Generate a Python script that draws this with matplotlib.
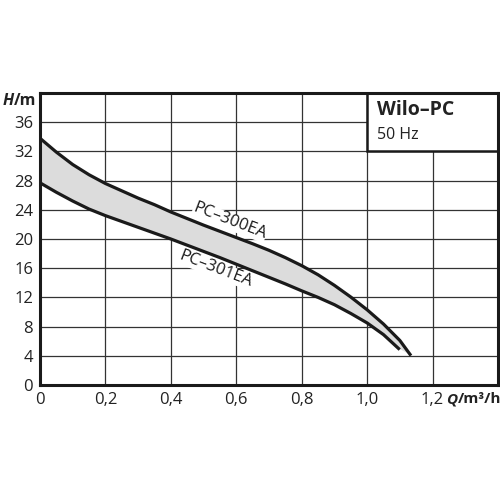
import numpy as np
import matplotlib.pyplot as plt
from matplotlib.patches import Rectangle, Polygon

plt.rcParams['font.family'] = ['Open Sans', 'DejaVu Sans']

# curve data (Q in m³/h, H in m)
q_300 = [0.0, 0.05, 0.1, 0.15, 0.2, 0.25, 0.3, 0.35, 0.4, 0.45, 0.5, 0.55,
         0.6, 0.65, 0.7, 0.75, 0.8, 0.85, 0.9, 0.95, 1.0, 1.05, 1.1, 1.131]
h_300 = [33.8, 31.9, 30.2, 28.8, 27.6, 26.6, 25.6, 24.7, 23.7, 22.8, 21.9, 21.05,
         20.2, 19.35, 18.45, 17.45, 16.35, 15.1, 13.65, 12.05, 10.3, 8.35, 6.1, 4.2]
q_301 = [0.0, 0.05, 0.1, 0.15, 0.2, 0.25, 0.3, 0.35, 0.4, 0.45, 0.5, 0.55,
         0.6, 0.65, 0.7, 0.75, 0.8, 0.85, 0.9, 0.95, 1.0, 1.05, 1.096]
h_301 = [27.7, 26.4, 25.2, 24.1, 23.2, 22.4, 21.6, 20.8, 20.0, 19.15, 18.3, 17.45,
         16.55, 15.65, 14.75, 13.85, 12.9, 12.0, 11.0, 9.8, 8.5, 6.9, 5.0]

x_ticks = [0, 0.2, 0.4, 0.6, 0.8, 1.0, 1.2]
x_labels = ['0', '0,2', '0,4', '0,6', '0,8', '1,0', '1,2']
y_ticks = [0, 4, 8, 12, 16, 20, 24, 28, 32, 36]

fig = plt.figure(figsize=(5, 5), dpi=100)
ax = fig.add_axes([0.08, 0.23, 0.916, 0.584])

ax.set_xlim(0, 1.4)
ax.set_ylim(0, 40)
ax.set_xticks(x_ticks)
ax.set_xticklabels(x_labels)
ax.set_yticks(y_ticks + [40])
ax.set_yticklabels([str(v) for v in y_ticks] + [''])
ax.tick_params(length=0, labelsize=12, pad=5, colors='#222222')
ax.set_axisbelow(True)
ax.grid(True, color='#333333', lw=0.9)
for s in ax.spines.values():
    s.set_linewidth(2.2)
    s.set_color('#1a1a1a')

# shaded band between the two curves
band = list(zip(q_300, h_300)) + list(zip(q_301[::-1], h_301[::-1]))
ax.add_patch(Polygon(band, closed=True, facecolor='#dcdcdc', edgecolor='none', zorder=2))
ax.plot(q_300, h_300, color='#1a1a1a', lw=2.3, zorder=3, solid_joinstyle='round')
ax.plot(q_301, h_301, color='#1a1a1a', lw=2.3, zorder=3, solid_joinstyle='round')

ax.text(0.58, 22.4, 'PC–300EA', rotation=-21, ha='center', va='center', fontsize=12,
        color='#1a1a1a', zorder=4,
        bbox=dict(facecolor='white', edgecolor='none', pad=0.3))
ax.text(0.536, 15.9, 'PC–301EA', rotation=-21, ha='center', va='center', fontsize=12,
        color='#1a1a1a', zorder=4,
        bbox=dict(facecolor='white', edgecolor='none', pad=0.3))

# title box
ax.add_patch(Rectangle((1.0, 32), 0.4, 8, facecolor='white', edgecolor='#1a1a1a', lw=1.8, zorder=2.5))
ax.text(1.03, 37.7, 'Wilo–PC', fontsize=14, fontweight='bold', ha='left', va='center', color='#222222', zorder=5)
ax.text(1.03, 34.3, '50 Hz', fontsize=11.5, ha='left', va='center', color='#222222', zorder=5)

# axis labels
ax.text(-0.113, 38.9, 'H', fontsize=11.5, fontweight='bold', fontstyle='italic', ha='left', va='center',
        color='#222222', clip_on=False)
ax.text(-0.08, 38.9, '/m', fontsize=11.5, fontweight='bold', ha='left', va='center',
        color='#222222', clip_on=False)
ax.text(1.242, -1.95, 'Q', fontsize=11, fontweight='bold', fontstyle='italic', ha='left', va='center',
        color='#222222', clip_on=False)
ax.text(1.277, -1.95, '/m³/h', fontsize=11, fontweight='bold', ha='left', va='center',
        color='#222222', clip_on=False)

fig.savefig('out.png', dpi=100)
